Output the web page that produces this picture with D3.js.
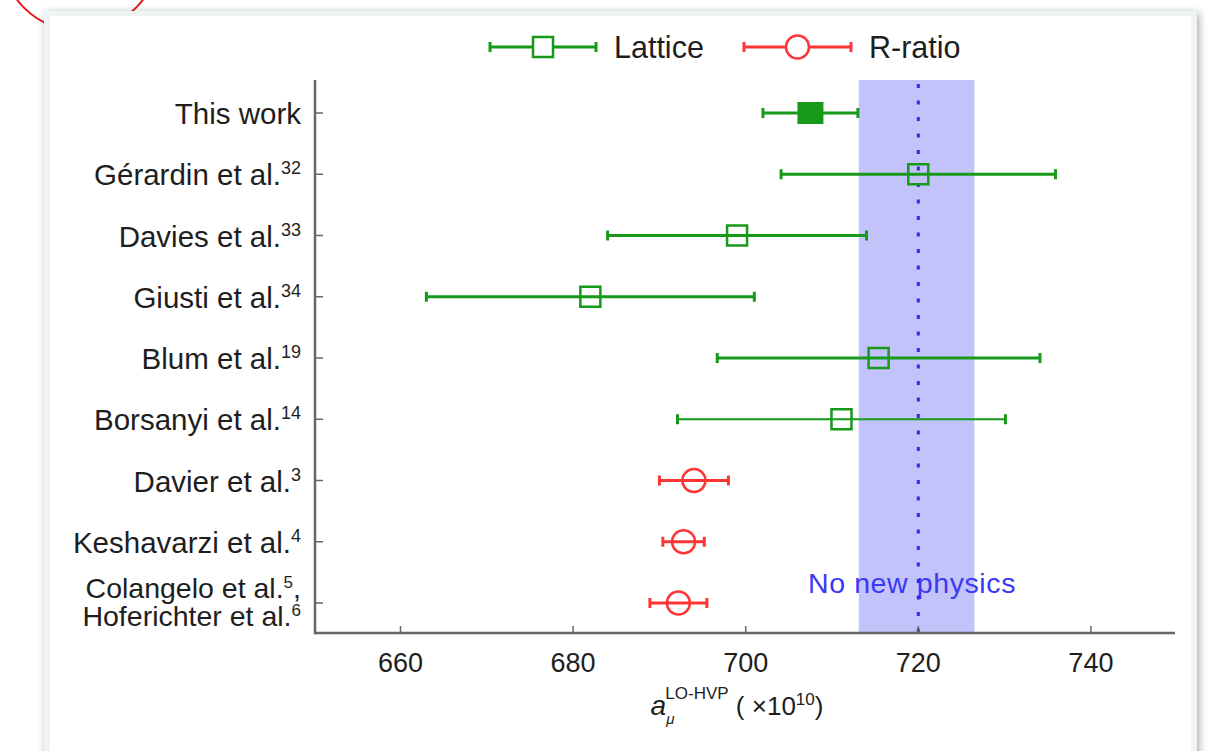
<!DOCTYPE html>
<html>
<head>
<meta charset="utf-8">
<script src="https://cdn.jsdelivr.net/npm/d3@7"></script>
<style>
  body { margin: 0; background: #fff; }
  text { font-family: "Liberation Sans", Arial, sans-serif; fill: #1e1e1e; }
</style>
</head>
<body>
<script>
// values (units of 1e-10)
const studies = ["This work", "Gérardin et al.", "Davies et al.", "Giusti et al.", "Blum et al.",
                 "Borsanyi et al.", "Davier et al.", "Keshavarzi et al.", "Colangelo et al."];
const refs = ["", "32", "33", "34", "19", "14", "3", "4", "5"];
const methods = ["Lattice", "Lattice", "Lattice", "Lattice", "Lattice", "Lattice", "R-ratio", "R-ratio", "R-ratio"];
const centers = [707.5, 720.0, 699.0, 682.0, 715.4, 711.1, 694.0, 692.8, 692.2];
const errors = [5.5, 15.9, 15.0, 19.0, 18.7, 19.0, 4.0, 2.4, 3.3];
const noNewPhysicsBand = [713.1, 726.5];
const noNewPhysicsValue = 720;
const xTicks = [660, 680, 700, 720, 740];
const xDomain = [650, 750];

const W = 1229, H = 751;
const GREEN = "#17991a", RED = "#ff3535", BLUE = "#2a2af0";

const svg = d3.select("body").append("svg")
    .attr("width", W).attr("height", H);

const defs = svg.append("defs");
const shadow = defs.append("filter").attr("id", "shadow")
    .attr("x", "-5%").attr("y", "-5%").attr("width", "110%").attr("height", "110%");
shadow.append("feGaussianBlur").attr("in", "SourceAlpha").attr("stdDeviation", 4);
shadow.append("feOffset").attr("dx", 2).attr("dy", 2).attr("result", "b");
shadow.append("feComponentTransfer").append("feFuncA").attr("type", "linear").attr("slope", 0.35);
const merge = shadow.append("feMerge");
merge.append("feMergeNode");
merge.append("feMergeNode").attr("in", "SourceGraphic");

// red annotation ring peeking out above the panel
svg.append("ellipse")
    .attr("cx", 80).attr("cy", -48).attr("rx", 79).attr("ry", 79)
    .attr("fill", "none").attr("stroke", "#e8141c").attr("stroke-width", 2);

// panel
svg.append("rect")
    .attr("x", 44).attr("y", 11).attr("width", 1153).attr("height", 760)
    .attr("fill", "#eef3f3").attr("filter", "url(#shadow)");
svg.append("rect")
    .attr("x", 50).attr("y", 16).attr("width", 1141).attr("height", 760)
    .attr("fill", "#fff");

// scales
const x = d3.scaleLinear().domain(xDomain).range([314.2, 1177.2]);
const y = d3.scalePoint().domain(studies).range([113, 603]);
const plotTop = 80, plotBottom = 633, plotLeft = 315, plotRight = 1175;

// no-new-physics band
svg.append("rect")
    .attr("x", x(noNewPhysicsBand[0])).attr("y", plotTop)
    .attr("width", x(noNewPhysicsBand[1]) - x(noNewPhysicsBand[0]))
    .attr("height", plotBottom - plotTop)
    .attr("fill", "#c3c3fb");

svg.append("text")
    .attr("x", 808).attr("y", 593)
    .attr("font-size", 28.5).attr("letter-spacing", 0.6)
    .style("fill", "#3a3af2")
    .text("No new physics");

svg.append("line")
    .attr("x1", x(noNewPhysicsValue)).attr("x2", x(noNewPhysicsValue))
    .attr("y1", plotTop + 4).attr("y2", plotBottom)
    .attr("stroke", BLUE).attr("stroke-width", 3)
    .attr("stroke-dasharray", "4,12.5");

// axes
const axisColor = "#666";
const xAxis = svg.append("g").attr("transform", `translate(0,${plotBottom})`);
xAxis.append("line")
    .attr("x1", plotLeft).attr("x2", plotRight)
    .attr("stroke", axisColor).attr("stroke-width", 2.5);
xAxis.selectAll(".tick").data(xTicks).enter().append("line")
    .attr("x1", d => x(d)).attr("x2", d => x(d))
    .attr("y1", 0).attr("y2", -7)
    .attr("stroke", axisColor).attr("stroke-width", 1.5);
xAxis.selectAll(".tl").data(xTicks).enter().append("text")
    .attr("x", d => x(d)).attr("y", 39)
    .attr("text-anchor", "middle").attr("font-size", 27)
    .text(d => d);

const yAxis = svg.append("g").attr("transform", `translate(${plotLeft},0)`);
yAxis.append("line")
    .attr("y1", plotTop).attr("y2", plotBottom + 1.2)
    .attr("stroke", axisColor).attr("stroke-width", 2.5);
yAxis.selectAll(".tick").data(studies).enter().append("line")
    .attr("x1", 0).attr("x2", 8)
    .attr("y1", d => y(d)).attr("y2", d => y(d))
    .attr("stroke", axisColor).attr("stroke-width", 1.5);

// row labels
const LABEL_SIZE = 29.5, SUP_SIZE = 18;
studies.forEach((s, i) => {
    const t = svg.append("text").attr("x", 301)
        .attr("text-anchor", "end").attr("font-size", LABEL_SIZE);
    if (i === studies.length - 1) {
        // two-line label in one text element
        t.attr("y", y(s) - 5).attr("font-size", 28.5);
        t.append("tspan").text(s);
        t.append("tspan").attr("font-size", 17).attr("dy", -10).text(refs[i]);
        t.append("tspan").attr("dy", 10).text(",");
        t.append("tspan").attr("x", 301).attr("dy", 28).text("Hoferichter et al.");
        t.append("tspan").attr("font-size", 17).attr("dy", -10).text("6");
        return;
    }
    t.attr("y", y(s) + 11);
    t.append("tspan").text(s);
    if (refs[i]) t.append("tspan").attr("font-size", SUP_SIZE).attr("dy", -11).text(refs[i]);
});

// error bars
const rows = studies.map((s, i) => ({
    study: s, method: methods[i], c: centers[i], e: errors[i], i: i
}));
const colorOf = m => m === "Lattice" ? GREEN : RED;

const bars = svg.append("g");
rows.forEach(d => {
    const g = bars.append("g").attr("transform", `translate(0,${y(d.study)})`);
    const col = colorOf(d.method);
    const lw = d.study === "Borsanyi et al." ? 2 : 3;
    g.append("line")
        .attr("x1", x(d.c - d.e)).attr("x2", x(d.c + d.e))
        .attr("stroke", col).attr("stroke-width", lw);
    [d.c - d.e, d.c + d.e].forEach(v => {
        g.append("line")
            .attr("x1", x(v)).attr("x2", x(v))
            .attr("y1", -5).attr("y2", 5)
            .attr("stroke", col).attr("stroke-width", 3);
    });
    if (d.method === "Lattice") {
        if (d.i === 0) {
            g.append("rect")
                .attr("x", x(d.c) - 13).attr("y", -11)
                .attr("width", 26).attr("height", 22)
                .attr("fill", col);
        } else {
            g.append("rect")
                .attr("x", x(d.c) - 10).attr("y", -10)
                .attr("width", 20).attr("height", 20)
                .attr("fill", "none").attr("stroke", col).attr("stroke-width", 2.5);
        }
    } else {
        g.append("circle")
            .attr("cx", x(d.c)).attr("r", 11.5)
            .attr("fill", "none").attr("stroke", col).attr("stroke-width", 2.5);
    }
});

// x-axis title
const title = svg.append("text").attr("x", 737).attr("y", 715)
    .attr("text-anchor", "middle").attr("font-size", 26);
title.append("tspan").attr("font-style", "italic").attr("font-size", 28).text("a");
title.append("tspan").attr("font-style", "italic").attr("font-size", 15).attr("dy", 9).text("μ");
title.append("tspan").attr("font-size", 17).attr("dx", -9).attr("dy", -25).text("LO-HVP");
title.append("tspan").attr("dy", 16).text(" ( ×10");
title.append("tspan").attr("font-size", 17).attr("dy", -10).text("10");
title.append("tspan").attr("dy", 10).text(")");

// legend
const legendItems = [
    { name: "Lattice", x0: 490, x1: 596, text: 614 },
    { name: "R-ratio", x0: 744, x1: 851, text: 869 }
];
const ly = 47;
legendItems.forEach(it => {
    const col = colorOf(it.name);
    const g = svg.append("g").attr("transform", `translate(0,${ly})`);
    g.append("line").attr("x1", it.x0).attr("x2", it.x1)
        .attr("stroke", col).attr("stroke-width", 3);
    [it.x0, it.x1].forEach(v => g.append("line")
        .attr("x1", v).attr("x2", v).attr("y1", -5).attr("y2", 5)
        .attr("stroke", col).attr("stroke-width", 3));
    const cx = (it.x0 + it.x1) / 2;
    if (it.name === "Lattice") {
        g.append("rect").attr("x", cx - 10).attr("y", -10).attr("width", 20).attr("height", 20)
            .attr("fill", "#fff").attr("stroke", col).attr("stroke-width", 2.5);
    } else {
        g.append("circle").attr("cx", cx).attr("r", 11.5)
            .attr("fill", "#fff").attr("stroke", col).attr("stroke-width", 2.5);
    }
    g.append("text").attr("x", it.text).attr("y", 11)
        .attr("font-size", 30.5).text(it.name);
});
</script>
</body>
</html>
